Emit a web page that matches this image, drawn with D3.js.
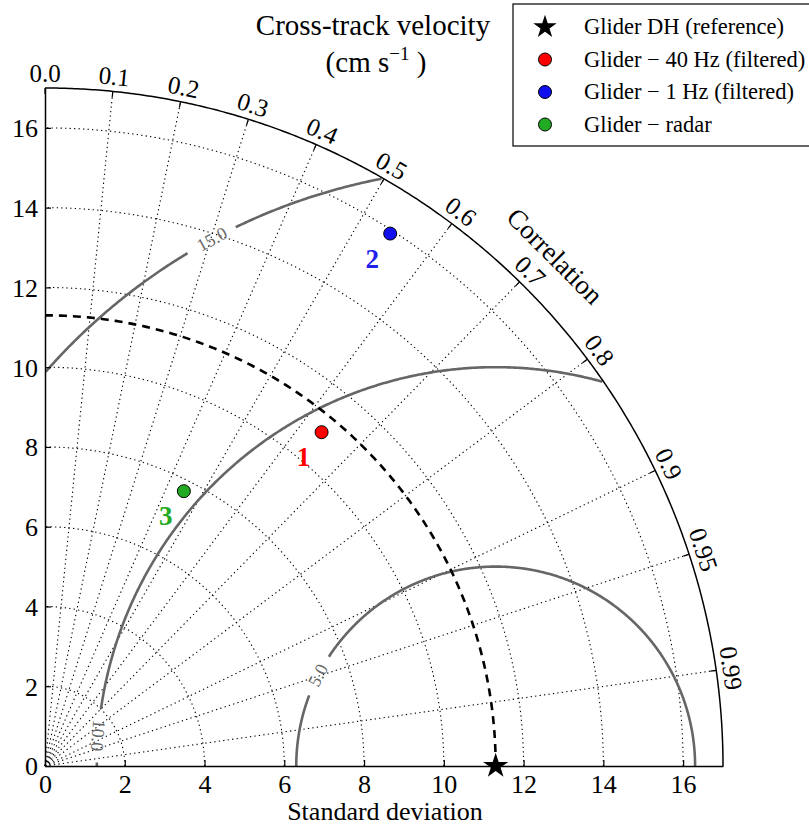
<!DOCTYPE html>
<html>
<head>
<meta charset="utf-8">
<script src="https://cdn.jsdelivr.net/npm/d3@7/dist/d3.min.js"></script>
<style>
  body { margin: 0; background: #fff; }
  svg { font-family: "Liberation Serif", "DejaVu Serif", serif; }
</style>
</head>
<body>
<svg width="809" height="829"></svg>
<script>
// Chart values
const stdTicks = [0, 2, 4, 6, 8, 10, 12, 14, 16];
const stdMax = 17;
const corrTicks = [0.0, 0.1, 0.2, 0.3, 0.4, 0.5, 0.6, 0.7, 0.8, 0.9, 0.95, 0.99];
const corrLabels = ["0.0", "0.1", "0.2", "0.3", "0.4", "0.5", "0.6", "0.7", "0.8", "0.9", "0.95", "0.99"];
const refName = "Glider DH (reference)";
const refStd = 11.3;
const rmsLevels = [5, 10, 15];
const rmsLabels = ["5.0", "10.0", "15.0"];
const modelNames = ["Glider \u2212 40 Hz (filtered)", "Glider \u2212 1 Hz (filtered)", "Glider \u2212 radar"];
const modelStd = [10.87, 15.91, 7.72];
const modelCorr = [0.638, 0.544, 0.451];
const modelTags = ["1", "2", "3"];

// styling
const modelColors = ["#ff0000", "#1010ee", "#22aa22"];
const tagColors = ["#ff0000", "#2020ee", "#22aa22"];
// where the contour labels sit (angle around the reference point, degrees)
const rmsLabelAngle = [152.9, 175.6, 118.3];
const rmsLabelFlip = [false, true, false];

const svg = d3.select("svg");
const ox = 45, oy = 766;
const x = d3.scaleLinear().domain([0, stdMax]).range([ox, ox + 678]);
const y = d3.scaleLinear().domain([0, stdMax]).range([oy, oy - 678]);
const pxPerUnit = x(1) - x(0);

// polar (std, theta) to pixels
const pt = (s, th) => [x(s * Math.cos(th)), y(s * Math.sin(th))];
const line = d3.line();

const grid = svg.append("g").attr("class", "grid")
  .attr("fill", "none").attr("stroke", "#000")
  .attr("stroke-width", 1.1).attr("stroke-dasharray", "1.3,3.2");

// std dev arcs
stdTicks.filter(s => s > 0).forEach(s => {
  const pts = d3.range(0, 91, 1).map(a => pt(s, a * Math.PI / 180));
  grid.append("path").attr("d", line(pts));
});

// correlation rays
corrTicks.filter(c => c > 0).forEach(c => {
  const th = Math.acos(c);
  grid.append("path").attr("d", line([pt(0, th), pt(stdMax, th)]));
});

// RMS contours around the reference
const contours = svg.append("g");
rmsLevels.forEach((L, i) => {
  const lab = contours.append("text")
    .attr("font-size", 18)
    .attr("fill", "#666")
    .attr("text-anchor", "middle")
    .attr("dominant-baseline", "central")
    .text(rmsLabels[i]);
  const halfGap = lab.node().getComputedTextLength() / 2 + 10;
  const gapDeg = (halfGap / (L * pxPerUnit)) * 180 / Math.PI;
  const la = rmsLabelAngle[i];
  const lx = refStd + L * Math.cos(la * Math.PI / 180);
  const ly = L * Math.sin(la * Math.PI / 180);
  let rot = -(la - 90);
  if (rmsLabelFlip[i]) rot += 180;
  lab.attr("transform", `translate(${x(lx)},${y(ly)}) rotate(${rot})`);

  let seg = [];
  const segs = [];
  for (let a = 0; a <= 180; a += 0.25) {
    const px = refStd + L * Math.cos(a * Math.PI / 180);
    const py = L * Math.sin(a * Math.PI / 180);
    const inside = px >= 0 && Math.hypot(px, py) <= stdMax && Math.abs(a - la) > gapDeg;
    if (inside) seg.push([x(px), y(py)]);
    else if (seg.length) { segs.push(seg); seg = []; }
  }
  if (seg.length) segs.push(seg);
  segs.forEach(s => contours.append("path")
    .attr("d", line(s)).attr("fill", "none")
    .attr("stroke", "#666").attr("stroke-width", 2.6));
});

// reference std arc (dashed)
svg.append("path")
  .attr("d", line(d3.range(0, 90.5, 0.5).map(a => pt(refStd, a * Math.PI / 180))))
  .attr("fill", "none").attr("stroke", "#000")
  .attr("stroke-width", 2.6).attr("stroke-dasharray", "8,6");

// outer arc
svg.append("path")
  .attr("d", line(d3.range(0, 90.25, 0.25).map(a => pt(stdMax, a * Math.PI / 180))))
  .attr("fill", "none").attr("stroke", "#000").attr("stroke-width", 1.5);

// correlation ticks & labels
const corrG = svg.append("g");
corrTicks.forEach((c, i) => {
  const th = Math.acos(c);
  const [x1, y1] = pt(stdMax, th);
  const [x2, y2] = pt(stdMax - 6 / pxPerUnit, th);
  corrG.append("line").attr("x1", x1).attr("y1", y1).attr("x2", x2).attr("y2", y2)
    .attr("stroke", "#000").attr("stroke-width", 1.2);
  const [tx, ty] = pt(stdMax + 15 / pxPerUnit, th);
  corrG.append("text")
    .attr("transform", `translate(${tx},${ty}) rotate(${90 - th * 180 / Math.PI})`)
    .attr("text-anchor", "middle").attr("dominant-baseline", "central")
    .attr("font-size", 25).text(corrLabels[i]);
});
{
  const th = Math.acos(0.7071);
  const [tx, ty] = pt(stdMax + 43 / pxPerUnit, th);
  svg.append("text")
    .attr("transform", `translate(${tx},${ty}) rotate(${90 - th * 180 / Math.PI})`)
    .attr("text-anchor", "middle").attr("dominant-baseline", "central")
    .attr("font-size", 27).text("Correlation");
}

// std axes
const xAxis = d3.axisBottom(x).tickValues(stdTicks).tickSizeInner(-6).tickSizeOuter(0).tickPadding(9);
const yAxis = d3.axisLeft(y).tickValues(stdTicks).tickSizeInner(-6).tickSizeOuter(0).tickPadding(7);
const gx = svg.append("g").attr("transform", `translate(0,${oy})`).call(xAxis);
const gy = svg.append("g").attr("transform", `translate(${ox},0)`).call(yAxis);
[gx, gy].forEach(g => {
  g.selectAll("text").attr("font-size", 26).attr("font-family", "Liberation Serif").attr("fill", "#000");
  g.select(".domain").attr("stroke-width", 1.5);
  g.selectAll(".tick line").attr("stroke-width", 1.2);
});
gy.selectAll("text").attr("dy", "0.34em");

svg.append("text")
  .attr("x", 385).attr("y", 820)
  .attr("text-anchor", "middle").attr("font-size", 26)
  .text("Standard deviation");

// title
svg.append("text").attr("text-anchor", "middle").attr("font-size", 29)
  .attr("x", 373).attr("y", 35).text("Cross-track velocity");
const t2 = svg.append("text").attr("text-anchor", "middle").attr("font-size", 29)
  .attr("x", 376).attr("y", 72);
t2.append("tspan").text("(cm s");
t2.append("tspan").attr("font-size", 19).attr("dy", -12).text("\u22121");
t2.append("tspan").attr("dy", 12).text(" )");

// reference star
const star = d3.symbol().type(d3.symbolStar).size(200);
svg.append("path")
  .attr("d", star())
  .attr("transform", `translate(${x(refStd)},${y(0)})`)
  .attr("fill", "#000");

// model points
modelStd.forEach((s, i) => {
  const th = Math.acos(modelCorr[i]);
  const [px, py] = pt(s, th);
  svg.append("circle").attr("cx", px).attr("cy", py).attr("r", 6.5)
    .attr("fill", modelColors[i]).attr("stroke", "#000").attr("stroke-width", 1);
  svg.append("text")
    .attr("x", px - 18).attr("y", py + 34)
    .attr("text-anchor", "middle").attr("font-size", 27).attr("font-weight", "bold")
    .attr("fill", tagColors[i]).text(modelTags[i]);
});

// legend
const legend = svg.append("g").attr("transform", "translate(513,4)");
legend.append("rect").attr("width", 320).attr("height", 142)
  .attr("fill", "#fff").attr("stroke", "#000").attr("stroke-width", 1.2);
const legNames = [refName].concat(modelNames);
legNames.forEach((n, i) => {
  const ly = 23 + i * 32.5;
  if (i === 0) {
    legend.append("path").attr("d", d3.symbol().type(d3.symbolStar).size(170)())
      .attr("transform", `translate(32,${ly})`).attr("fill", "#000");
  } else {
    legend.append("circle").attr("cx", 32).attr("cy", ly).attr("r", 6.5)
      .attr("fill", modelColors[i - 1]).attr("stroke", "#000").attr("stroke-width", 1);
  }
  legend.append("text").attr("x", 71).attr("y", ly).attr("dy", "0.33em")
    .attr("font-size", 22.5).text(n);
});
</script>
</body>
</html>
